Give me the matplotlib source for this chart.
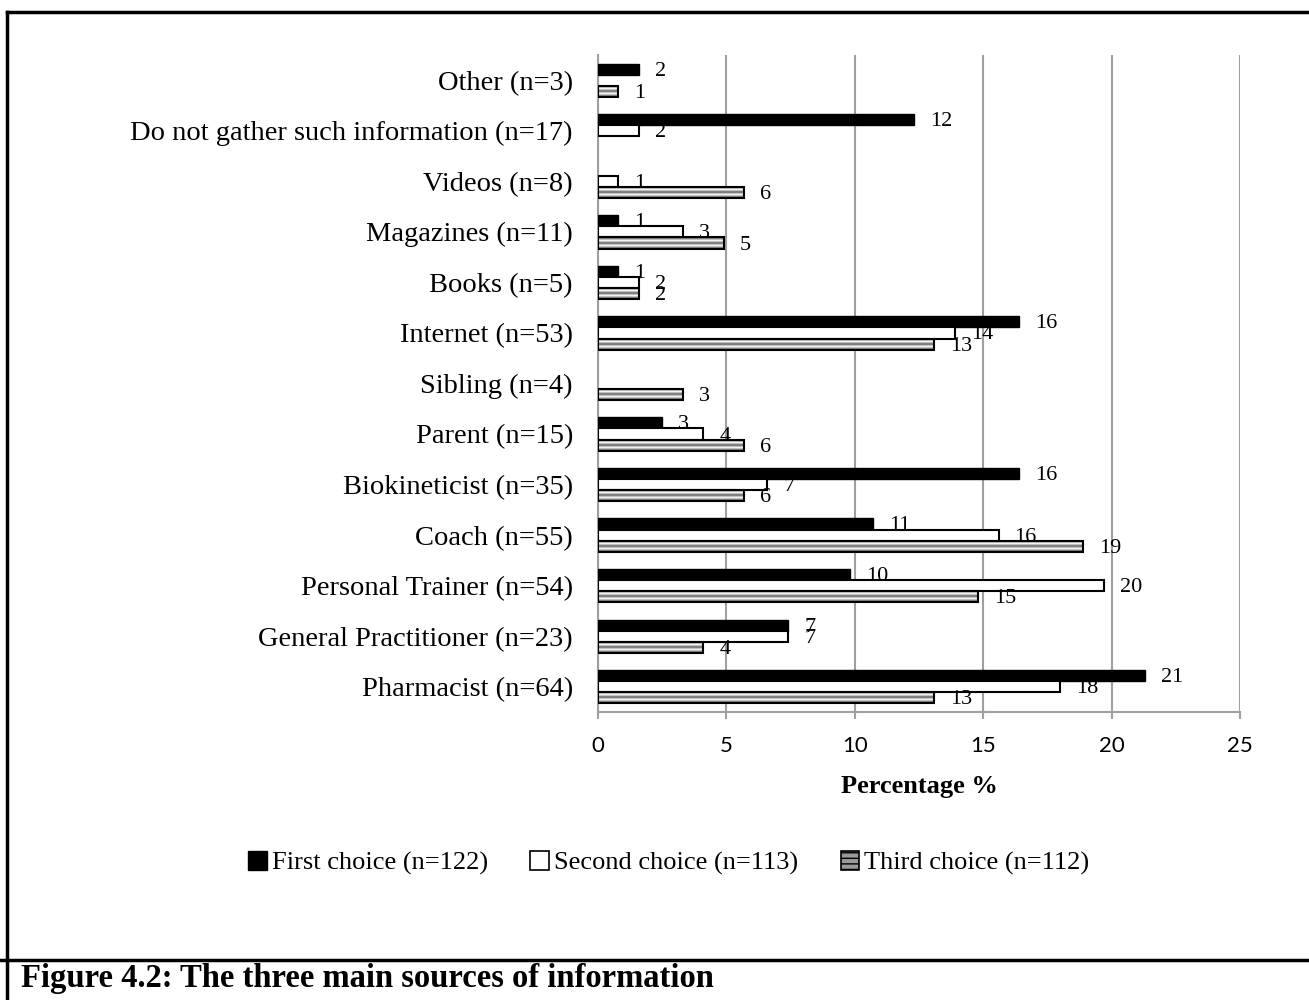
import matplotlib.pyplot as plt
from matplotlib.patches import Patch
from matplotlib.lines import Line2D
import numpy as np

# data (percentages), listed bottom to top
categories = ['Pharmacist (n=64)', 'General Practitioner (n=23)', 'Personal Trainer (n=54)',
              'Coach (n=55)', 'Biokineticist (n=35)', 'Parent (n=15)', 'Sibling (n=4)',
              'Internet (n=53)', 'Books (n=5)', 'Magazines (n=11)', 'Videos (n=8)',
              'Do not gather such information (n=17)', 'Other (n=3)']
first = [21.3, 7.4, 9.8, 10.7, 16.4, 2.5, 0, 16.4, 0.8, 0.8, 0, 12.3, 1.6]
second = [18.0, 7.4, 19.7, 15.6, 6.6, 4.1, 0, 13.9, 1.6, 3.3, 0.8, 1.6, 0]
third = [13.1, 4.1, 14.8, 18.9, 5.7, 5.7, 3.3, 13.1, 1.6, 4.9, 5.7, 0, 0.8]
series_names = ['First choice (n=122)', 'Second choice (n=113)', 'Third choice (n=112)']

plt.rcParams['font.family'] = 'Liberation Serif'

fig = plt.figure(figsize=(13.09, 10), dpi=100)
ax = fig.add_axes([0.4568, 0.288, 0.4905, 0.657])

y = np.arange(len(categories))
h = 0.22
grid_col = '#a0a0a0'

b1 = ax.barh(y + h, first, height=h, color='black', edgecolor='black', linewidth=1, zorder=3)
b2 = ax.barh(y, second, height=h, color='white', edgecolor='black', linewidth=1.5, zorder=3)
b3 = ax.barh(y - h, third, height=h, color='none', edgecolor='black', linewidth=1.5, zorder=4)

# hide zero-length bars (Excel draws nothing there)
for bars, vals in ((b1, first), (b2, second), (b3, third)):
    for bar, v in zip(bars, vals):
        if v <= 0:
            bar.set_visible(False)

# striped grey fill for third choice bars
stripe = np.array([0.3, 0.5, 0.75, 0.95, 0.75, 0.5, 0.3, 0.5, 0.75, 0.95, 0.75, 0.5, 0.3]).reshape(-1, 1)
for bar, yy, v in zip(b3, y, third):
    if v <= 0:
        continue
    im = ax.imshow(stripe, cmap='gray', vmin=0, vmax=1, aspect='auto',
                   extent=(0, v, yy - h - h / 2, yy - h + h / 2), zorder=3,
                   interpolation='nearest')
    im.set_clip_path(bar)

ax.set_xlim(0, 25)
ax.set_ylim(-0.5, len(categories) - 0.5)
ax.set_aspect('auto')

# value labels
for bars, vals in ((b1, first), (b2, second), (b3, third)):
    for bar, v in zip(bars, vals):
        if v <= 0:
            continue
        ax.annotate(str(int(v + 0.5)), xy=(v, bar.get_y() + bar.get_height() / 2),
                    xytext=(16, -2), textcoords='offset pixels',
                    ha='left', va='center', fontsize=16, zorder=5)

ax.set_yticks(y)
ax.set_yticklabels(categories, fontsize=20.5)
ax.tick_params(axis='y', length=0, pad=18)
ax.set_xticks(range(0, 26, 5))
ax.tick_params(axis='x', length=5, width=1.5, color=grid_col, pad=12, labelsize=16)
for t in ax.get_xticklabels():
    t.set_fontfamily('Lato')

ax.grid(axis='x', color=grid_col, linewidth=1.5, zorder=0)
ax.set_axisbelow(True)
for s in ['top', 'right']:
    ax.spines[s].set_visible(False)
for s in ['left', 'bottom']:
    ax.spines[s].set_color(grid_col)
    ax.spines[s].set_linewidth(1.5)

ax.set_xlabel('Percentage %', fontsize=19, fontweight='bold', labelpad=14)

handles = [Patch(facecolor='black', edgecolor='black'),
           Patch(facecolor='white', edgecolor='black', linewidth=1.2),
           Patch(facecolor='#9a9a9a', edgecolor='black', hatch='---', linewidth=1.2)]
fig.legend(handles, series_names, loc='center', bbox_to_anchor=(0.511, 0.137), ncol=3,
           frameon=False, fontsize=19, handlelength=0.7, handleheight=0.7,
           handletextpad=0.2, columnspacing=1.6)

# frame and caption
fig.add_artist(Line2D([0.0056, 0.0056], [0, 0.988], color='black', linewidth=2.5))
fig.add_artist(Line2D([0.0056, 1], [0.988, 0.988], color='black', linewidth=2.5))
fig.add_artist(Line2D([0, 1], [0.04, 0.04], color='black', linewidth=2.5))
fig.text(0.016, 0.022, 'Figure 4.2: The three main sources of information',
         fontsize=23.5, fontweight='bold', va='center', ha='left')

fig.savefig('out.png', dpi=100)
